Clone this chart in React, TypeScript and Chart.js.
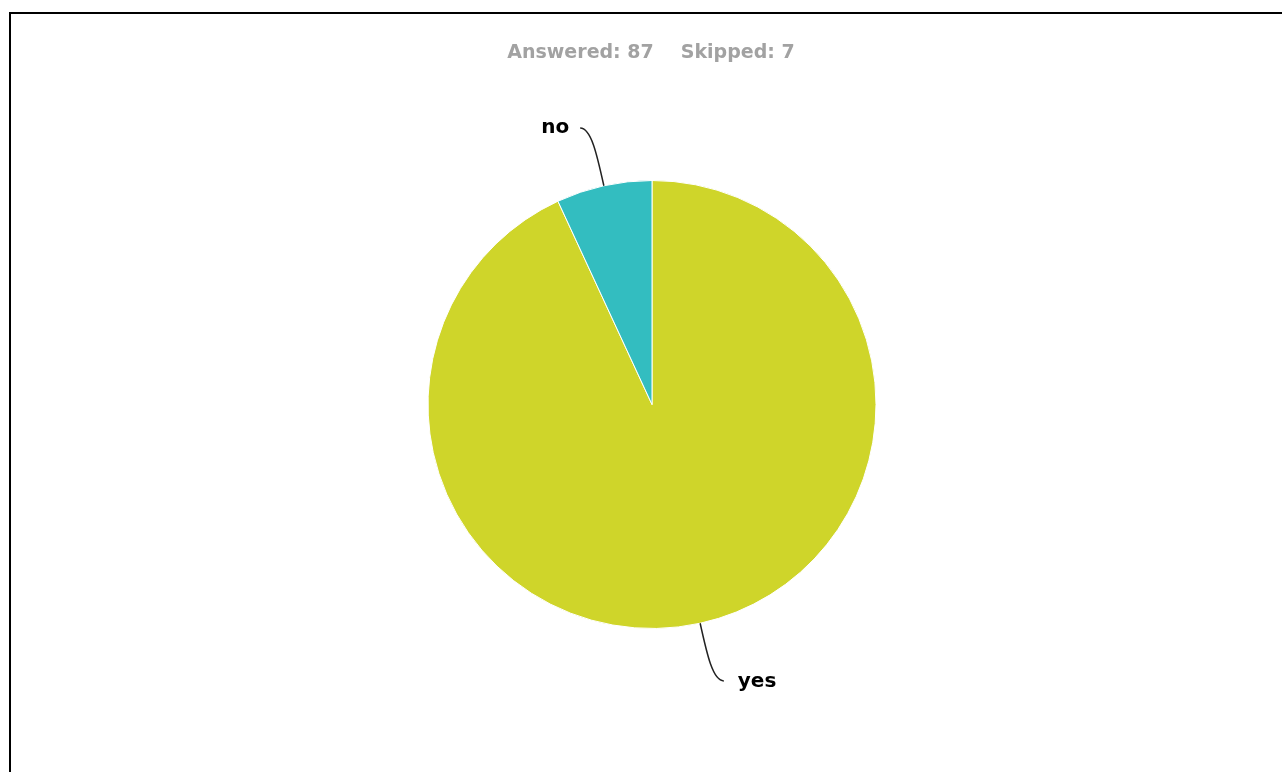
import React, { useEffect, useRef } from "react";
import { Chart, registerables } from "chart.js";

Chart.register(...registerables);

const categories = ["yes", "no"];
const values = [81, 6];
const colors = ["#cfd52a", "#33bdc0"];
const answered = 87;
const skipped = 7;

const W = 1282;
const H = 772;

const leaderPlugin = {
  id: "leaders",
  afterDatasetsDraw(chart: any) {
    const ctx = chart.ctx as CanvasRenderingContext2D;
    const meta = chart.getDatasetMeta(0);
    ctx.save();
    meta.data.forEach((arc: any, i: number) => {
      const p = arc.getProps(["x", "y", "startAngle", "endAngle", "outerRadius"], true);
      const mid = (p.startAngle + p.endAngle) / 2;
      const ux = Math.cos(mid);
      const uy = Math.sin(mid);
      const r = p.outerRadius;
      const sign = ux >= 0 ? 1 : -1;
      const p0x = p.x + ux * r;
      const p0y = p.y + uy * r;
      const c1x = p.x + ux * (r + 32);
      const c1y = p.y + uy * (r + 32);
      const ex = p.x + ux * (r + 59);
      const ey = p.y + uy * (r + 59);
      const endX = ex + sign * 11;
      const endY = ey;
      ctx.beginPath();
      ctx.moveTo(p0x, p0y);
      ctx.bezierCurveTo(c1x, c1y, ex, ey, endX, endY);
      ctx.strokeStyle = "#222";
      ctx.lineWidth = 1.5;
      ctx.stroke();
      ctx.font = "bold 20px 'DejaVu Sans'";
      ctx.fillStyle = "#000";
      ctx.textBaseline = "alphabetic";
      ctx.textAlign = sign > 0 ? "left" : "right";
      ctx.fillText(categories[i], endX + sign * (sign > 0 ? 14 : 11), endY + (sign > 0 ? 6 : 5));
    });
    ctx.restore();
  },
  afterDraw(chart: any) {
    const ctx = chart.ctx as CanvasRenderingContext2D;
    ctx.save();
    ctx.font = "bold 19px 'DejaVu Sans'";
    ctx.fillStyle = "#a2a2a2";
    ctx.textBaseline = "alphabetic";
    ctx.textAlign = "left";
    const t1 = `Answered: ${answered}`;
    const t2 = `Skipped: ${skipped}`;
    const gap = 27;
    const w1 = ctx.measureText(t1).width;
    const w2 = ctx.measureText(t2).width;
    const total = w1 + gap + w2;
    const start = 651 - total / 2;
    ctx.fillText(t1, start, 58);
    ctx.fillText(t2, start + w1 + gap, 58);
    ctx.restore();
  },
};

export default function App() {
  const ref = useRef<HTMLCanvasElement>(null);
  useEffect(() => {
    if (!ref.current) return;
    const chart = new Chart(ref.current, {
      type: "pie",
      data: {
        labels: categories,
        datasets: [
          {
            data: values,
            backgroundColor: colors,
            borderColor: "#ffffff",
            borderWidth: 1,
            hoverOffset: 0,
          },
        ],
      },
      options: {
        responsive: false,
        animation: false,
        layout: { padding: { top: 180, bottom: 143, left: 300, right: 278 } },
        plugins: {
          legend: { display: false },
          tooltip: { enabled: false },
          title: { display: false },
        },
      },
      plugins: [leaderPlugin],
    });
    return () => chart.destroy();
  }, []);

  return (
    <div style={{ position: "fixed", left: 0, top: 0, width: W, height: H, overflow: "hidden", background: "#fff" }}>
      <div
        style={{
          position: "absolute",
          left: 9,
          top: 12,
          right: 0,
          bottom: 0,
          borderLeft: "2px solid #000",
          borderTop: "2px solid #000",
        }}
      />
      <canvas ref={ref} width={W} height={H} style={{ position: "absolute", left: 0, top: 0, width: W, height: H }} />
    </div>
  );
}
